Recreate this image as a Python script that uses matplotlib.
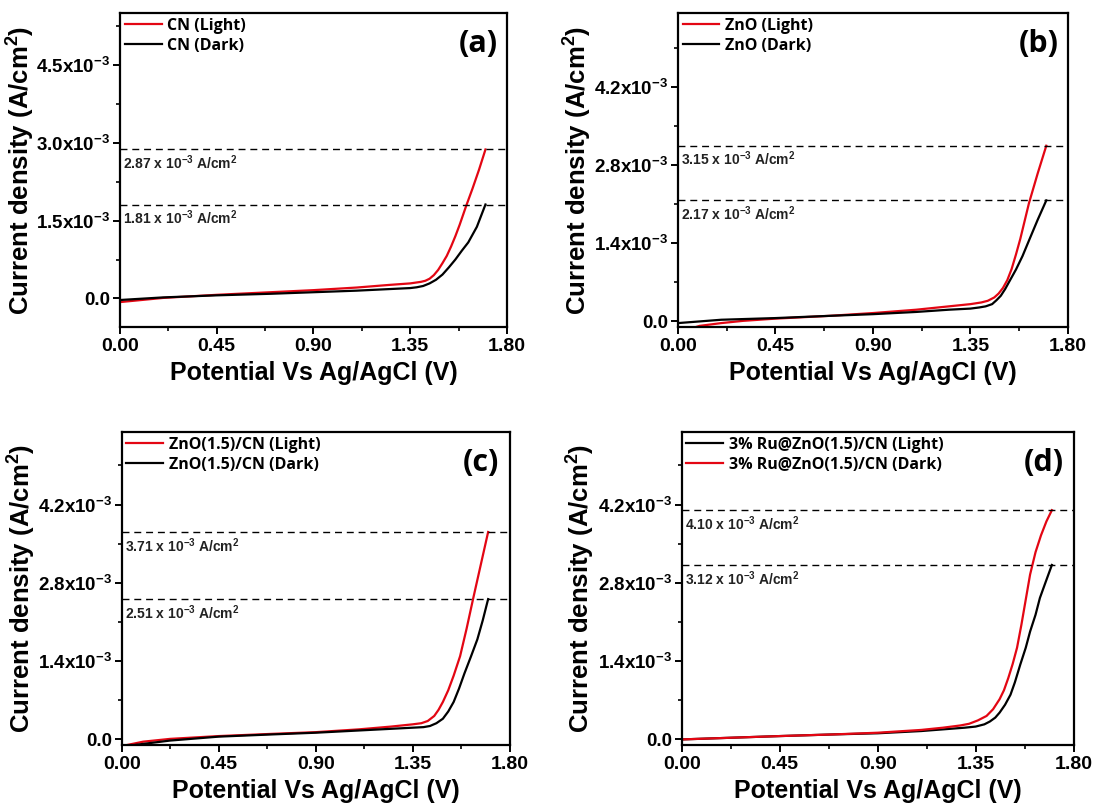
import numpy as np
import matplotlib
matplotlib.use("Agg")
import matplotlib.pyplot as plt
from matplotlib.ticker import MultipleLocator

plt.rcParams['font.family'] = ['Liberation Sans', 'DejaVu Sans']
plt.rcParams['font.weight'] = 'bold'
plt.rcParams['axes.labelweight'] = 'bold'
plt.rcParams['mathtext.fontset'] = 'custom'
plt.rcParams['mathtext.rm'] = 'Liberation Sans:bold'
plt.rcParams['mathtext.it'] = 'Liberation Sans:bold'
plt.rcParams['mathtext.bf'] = 'Liberation Sans:bold'
plt.rcParams['mathtext.default'] = 'rm'

# LSV curves, current density in units of 1e-3 A/cm2
cn_light_v = [0, 0.2, 0.45, 0.7, 0.9, 1.1, 1.25, 1.35, 1.40, 1.42, 1.44, 1.46, 1.48, 1.50, 1.52,
              1.54, 1.56, 1.58, 1.61, 1.64, 1.67, 1.70]
cn_light_j = [-0.07, 0.01, 0.07, 0.12, 0.16, 0.21, 0.26, 0.29, 0.32, 0.34, 0.38, 0.45, 0.55, 0.68, 0.82,
              1.00, 1.20, 1.42, 1.78, 2.12, 2.48, 2.87]
cn_dark_v = [0, 0.2, 0.45, 0.7, 0.9, 1.1, 1.25, 1.35, 1.38, 1.41, 1.44, 1.47, 1.50, 1.53, 1.56,
             1.59, 1.62, 1.66, 1.70]
cn_dark_j = [-0.03, 0.02, 0.06, 0.09, 0.12, 0.15, 0.18, 0.20, 0.215, 0.24, 0.29, 0.36, 0.46, 0.60, 0.75,
             0.92, 1.08, 1.38, 1.81]

zno_light_v = [0.0, 0.1, 0.2, 0.3, 0.45, 0.7, 0.9, 1.1, 1.25, 1.35, 1.40, 1.43, 1.46, 1.48, 1.50,
               1.52, 1.54, 1.56, 1.58, 1.60, 1.62, 1.66, 1.70]
zno_light_j = [-0.20, -0.08, -0.03, 0.01, 0.05, 0.10, 0.15, 0.21, 0.27, 0.31, 0.34, 0.37, 0.43, 0.50, 0.60,
               0.74, 0.94, 1.20, 1.48, 1.80, 2.12, 2.65, 3.15]
zno_dark_v = [0, 0.2, 0.45, 0.7, 0.9, 1.1, 1.25, 1.35, 1.39, 1.42, 1.45, 1.47, 1.49, 1.51, 1.53,
              1.56, 1.59, 1.62, 1.66, 1.70]
zno_dark_j = [-0.03, 0.03, 0.06, 0.10, 0.13, 0.17, 0.21, 0.23, 0.25, 0.27, 0.31, 0.38, 0.46, 0.58, 0.72,
              0.93, 1.17, 1.45, 1.82, 2.17]

zc_light_v = [0, 0.1, 0.225, 0.45, 0.7, 0.9, 1.1, 1.25, 1.35, 1.39, 1.42, 1.45, 1.47, 1.49, 1.515,
              1.54, 1.57, 1.60, 1.63, 1.665, 1.70]
zc_light_j = [-0.12, -0.04, 0.01, 0.06, 0.10, 0.13, 0.18, 0.23, 0.27, 0.29, 0.33, 0.42, 0.53, 0.67, 0.88,
              1.14, 1.49, 1.98, 2.51, 3.11, 3.71]
zc_dark_v = [0, 0.1, 0.225, 0.45, 0.7, 0.9, 1.1, 1.25, 1.35, 1.40, 1.43, 1.46, 1.49, 1.515, 1.54,
             1.565, 1.59, 1.62, 1.65, 1.675, 1.70]
zc_dark_j = [-0.13, -0.08, -0.02, 0.05, 0.09, 0.12, 0.16, 0.19, 0.21, 0.22, 0.24, 0.29, 0.37, 0.50, 0.67,
             0.91, 1.18, 1.48, 1.79, 2.13, 2.51]

ru_light_v = [0, 0.225, 0.45, 0.7, 0.9, 1.1, 1.2, 1.30, 1.35, 1.39, 1.415, 1.44, 1.46, 1.485, 1.51,
              1.53, 1.555, 1.58, 1.60, 1.625, 1.645, 1.67, 1.70]
ru_light_j = [0.0, 0.03, 0.06, 0.09, 0.11, 0.15, 0.18, 0.21, 0.23, 0.27, 0.32, 0.39, 0.48, 0.62, 0.80,
              1.02, 1.34, 1.64, 1.93, 2.23, 2.53, 2.80, 3.12]
ru_dark_v = [0, 0.225, 0.45, 0.7, 0.9, 1.1, 1.2, 1.28, 1.32, 1.36, 1.40, 1.43, 1.46, 1.48, 1.50,
             1.52, 1.54, 1.56, 1.58, 1.60, 1.625, 1.65, 1.675, 1.70]
ru_dark_j = [0.0, 0.03, 0.06, 0.09, 0.12, 0.17, 0.21, 0.25, 0.28, 0.34, 0.42, 0.54, 0.72, 0.88, 1.10,
             1.35, 1.64, 2.05, 2.50, 2.95, 3.35, 3.65, 3.90, 4.10]

# peak values written next to the dashed guides
cn_peaks = [2.87, 1.81]
zno_peaks = [3.15, 2.17]
zc_peaks = [3.71, 2.51]
ru_peaks = [4.10, 3.12]

x_ticks = [0.00, 0.45, 0.90, 1.35, 1.80]
yticks_a = [0.0, 1.5, 3.0, 4.5]
yticks_b = [0.0, 1.4, 2.8, 4.2]

RED = '#e30613'

panels = [
    dict(rect=[0.1097, 0.5948, 0.3537, 0.3891], tag='(a)', ylim=(-0.55, 5.5), yt=yticks_a,
         curves=[(cn_light_v, cn_light_j, RED, 'CN (Light)'), (cn_dark_v, cn_dark_j, 'black', 'CN (Dark)')],
         peaks=cn_peaks),
    dict(rect=[0.6197, 0.5948, 0.3565, 0.3891], tag='(b)', ylim=(-0.1, 5.53), yt=yticks_b,
         curves=[(zno_light_v, zno_light_j, RED, 'ZnO (Light)'), (zno_dark_v, zno_dark_j, 'black', 'ZnO (Dark)')],
         peaks=zno_peaks),
    dict(rect=[0.1112, 0.0768, 0.3547, 0.388], tag='(c)', ylim=(-0.1, 5.5), yt=yticks_b,
         curves=[(zc_light_v, zc_light_j, RED, 'ZnO(1.5)/CN (Light)'), (zc_dark_v, zc_dark_j, 'black', 'ZnO(1.5)/CN (Dark)')],
         peaks=zc_peaks),
    dict(rect=[0.6231, 0.0768, 0.3583, 0.388], tag='(d)', ylim=(-0.1, 5.5), yt=yticks_b,
         curves=[(ru_light_v, ru_light_j, 'black', '3% Ru@ZnO(1.5)/CN (Light)'),
                 (ru_dark_v, ru_dark_j, RED, '3% Ru@ZnO(1.5)/CN (Dark)')],
         peaks=ru_peaks),
]

fig = plt.figure(figsize=(10.94, 8.07), dpi=100)

for p in panels:
    ax = fig.add_axes(p['rect'])
    for v, j, c, lab in p['curves']:
        ax.plot(v, np.array(j) * 1e-3, color=c, lw=1.6, label=lab)

    for val in p['peaks']:
        ax.axhline(val * 1e-3, color='black', lw=1.0, dashes=(5, 3.5))
        ax.annotate(f'{val:.2f} x 10$^{{-3}}$ A/cm$^{{2}}$', xy=(0.008, val * 1e-3),
                    xycoords=('axes fraction', 'data'), xytext=(0, -3), textcoords='offset points',
                    ha='left', va='top', fontsize=10, color='#222222')

    ax.set_xlim(0, 1.8)
    ax.set_ylim(p['ylim'][0] * 1e-3, p['ylim'][1] * 1e-3)
    ax.set_xticks(x_ticks)
    ax.set_xticklabels([f'{t:.2f}' for t in x_ticks])
    ax.xaxis.set_minor_locator(MultipleLocator(0.225))
    yt = p['yt']
    ax.set_yticks([t * 1e-3 for t in yt])
    ax.set_yticklabels(['0.0'] + [f'{t:.1f}x10$^{{-3}}$' for t in yt[1:]])
    step = yt[1] - yt[0]
    ax.set_yticks([(t + step / 2) * 1e-3 for t in yt], minor=True)

    ax.tick_params(which='major', direction='out', length=5, width=1.4, pad=3)
    ax.tick_params(axis='x', labelsize=14)
    ax.tick_params(axis='y', labelsize=13.5, pad=2)
    ax.tick_params(which='minor', direction='out', length=3, width=1.2)
    for s in ax.spines.values():
        s.set_linewidth(1.6)

    ax.set_xlabel('Potential Vs Ag/AgCl (V)', fontsize=18, labelpad=4)
    ax.set_ylabel('Current density (A/cm$^{2}$)', fontsize=18.5)
    ax.yaxis.set_label_coords(-0.215, 0.5)

    ax.legend(loc='upper left', bbox_to_anchor=(0, 1), frameon=False,
              handlelength=2.3, handletextpad=0.35, labelspacing=0.25, borderaxespad=0.1,
              borderpad=0.2, prop={'family': 'Open Sans', 'weight': 'bold', 'size': 11.5})
    ax.text(0.925, 0.9, p['tag'], transform=ax.transAxes, ha='center', va='center',
            fontsize=22, fontweight='bold', family='Open Sans')

fig.savefig('out.png', dpi=100)
